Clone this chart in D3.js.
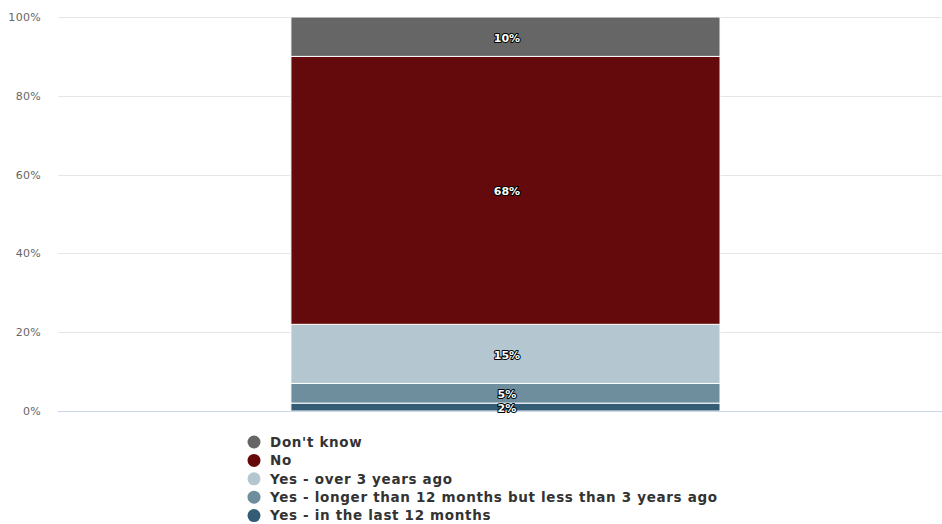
<!DOCTYPE html>
<html><head><meta charset="utf-8">
<script src="https://cdn.jsdelivr.net/npm/d3@7"></script>
<style>body{margin:0;background:#fff}svg{display:block}</style>
</head><body>
<svg id="c" width="942" height="524"></svg>
<script>
const categories = ["All"];
const seriesNames = ["Yes - in the last 12 months","Yes - longer than 12 months but less than 3 years ago","Yes - over 3 years ago","No","Don't know"];
const seriesValues = [2, 5, 15, 68, 10];
const seriesColors = ["#345c75","#6f8e9d","#b4c7d0","#650a0c","#666666"];
const yTicks = [0, 20, 40, 60, 80, 100];

(function(){
const svg = d3.select("#c");
const mLeft = 58, mRight = 942, mTop = 17, mBottom = 411;
const x = d3.scaleBand().domain(categories).range([mLeft, mRight]).paddingInner(0).paddingOuter(0.53).align(0.512);
const y = d3.scaleLinear().domain([0, 100]).range([mBottom, mTop]);

// grid
svg.append("g").selectAll("line").data(yTicks.filter(t=>t>0)).join("line")
  .attr("x1", mLeft).attr("x2", mRight).attr("y1", d=>Math.round(y(d))+0.5).attr("y2", d=>Math.round(y(d))+0.5)
  .attr("stroke", "#e6e6e6").attr("stroke-width", 1);

// y axis labels
const yAxis = d3.axisLeft(y).tickValues(yTicks).tickFormat(d=>d+"%").tickSize(0).tickPadding(0);
const ga = svg.append("g").attr("transform", `translate(${mLeft-17},0)`).call(yAxis);
ga.select(".domain").remove();
ga.selectAll("text").attr("font-family","DejaVu Sans, sans-serif").attr("font-size","11px")
  .attr("letter-spacing","0.3px").attr("fill","#666");

// stacked
const stackData = [];
let cum = 0;
seriesValues.forEach((v,i)=>{ stackData.push({name:seriesNames[i], v, y0:cum, y1:cum+v, color:seriesColors[i]}); cum+=v; });

svg.append("g").selectAll("rect").data(stackData).join("rect")
  .attr("x", x(categories[0])).attr("width", x.bandwidth())
  .attr("y", d=>y(d.y1)).attr("height", d=>y(d.y0)-y(d.y1))
  .attr("fill", d=>d.color).attr("stroke","#fff").attr("stroke-width",1);

// x axis line
svg.append("line").attr("x1", mLeft).attr("x2", mRight).attr("y1", mBottom+0.5).attr("y2", mBottom+0.5)
  .attr("stroke","#ccd6eb").attr("stroke-width",1);

// labels
svg.append("g").selectAll("text").data(stackData).join("text")
  .attr("x", x(categories[0]) + x.bandwidth()/2 + 1.5)
  .attr("y", d=>(y(d.y0)+y(d.y1))/2 + 1)
  .attr("dy","0.35em").attr("text-anchor","middle")
  .attr("font-family","DejaVu Sans, sans-serif").attr("font-size","11px").attr("font-weight","bold")
  .attr("fill","#fff").attr("stroke","#000").attr("stroke-width",2).attr("paint-order","stroke")
  .attr("stroke-linejoin","round")
  .text(d=>d.v+"%");

// legend
const legendOrder = stackData.slice().reverse();
const lg = svg.append("g").selectAll("g").data(legendOrder).join("g")
  .attr("transform",(d,i)=>`translate(254,${442 + i*18.4})`);
lg.append("circle").attr("r",6.5).attr("fill",d=>d.color);
lg.append("text").attr("x",16).attr("dy","0.35em")
  .attr("font-family","DejaVu Sans, sans-serif").attr("font-size","13.5px").attr("font-weight","bold")
  .attr("letter-spacing","0.67px")
  .attr("fill","#333").text(d=>d.name);
})();
</script>
</body></html>
